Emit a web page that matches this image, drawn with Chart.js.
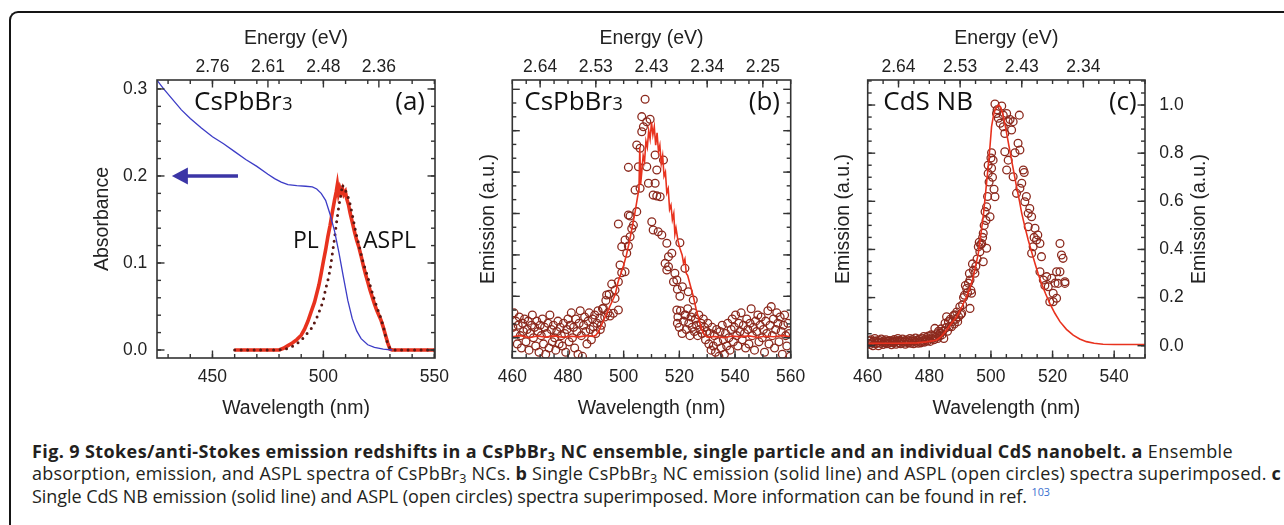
<!DOCTYPE html>
<html>
<head>
<meta charset="utf-8">
<script src="https://cdn.jsdelivr.net/npm/chart.js@4.4.1/dist/chart.umd.min.js"></script>
<style>
  html, body { margin: 0; padding: 0; background: #fff; }
  #page { position: relative; width: 1284px; height: 525px; overflow: hidden; background: #fff; }
  #frame { position: absolute; left: 9px; top: 11px; width: 1400px; height: 700px;
           border-top: 2px solid #151515; border-left: 2px solid #151515; border-top-left-radius: 9px; }
  canvas { position: absolute; }
  #caption { position: absolute; left: 32px; top: 440px; font-family: 'Open Sans'; font-size: 18px;
             line-height: 22.3px; color: #231f20; white-space: nowrap; }
  .cap { display: block; width: max-content; }
  #caption sub { font-size: 0.7em; vertical-align: -0.25em; line-height: 0; }
  #caption sup { font-size: 0.6em; vertical-align: 0.65em; line-height: 0; color: #3a6fd0; }
</style>
</head>
<body>
<div id="page">
  <div id="frame"></div>
  <canvas id="chartA" width="420" height="410" style="left:60px;top:20px"></canvas>
  <canvas id="chartB" width="350" height="410" style="left:470px;top:20px"></canvas>
  <canvas id="chartC" width="440" height="410" style="left:820px;top:20px"></canvas>
  <div id="caption">
    <span class="cap" data-w="1201"><b>Fig. 9 Stokes/anti-Stokes emission redshifts in a CsPbBr<sub>3</sub> NC ensemble, single particle and an individual CdS nanobelt. a</b> Ensemble</span>
    <span class="cap" data-w="1249">absorption, emission, and ASPL spectra of CsPbBr<sub>3</sub> NCs. <b>b</b> Single CsPbBr<sub>3</sub> NC emission (solid line) and ASPL (open circles) spectra superimposed. <b>c</b></span>
    <span class="cap" data-w="1018">Single CdS NB emission (solid line) and ASPL (open circles) spectra superimposed. More information can be found in ref.&nbsp;<sup>103</sup></span>
  </div>
</div>
<script>
// ---- panel (a): ensemble absorbance, PL and ASPL ----
const absX = [425, 428, 432, 436, 440, 445, 450, 455, 460, 465, 470, 475, 478, 481, 484, 488, 492, 495, 497, 499, 501, 503, 505, 507, 509, 511, 513, 515, 517, 520, 523, 527, 531];
const absY = [0.310, 0.300, 0.288, 0.276, 0.266, 0.255, 0.245, 0.237, 0.228, 0.219, 0.211, 0.202, 0.197, 0.193, 0.190, 0.1888, 0.1882, 0.1875, 0.185, 0.180, 0.172, 0.156, 0.137, 0.112, 0.084, 0.057, 0.036, 0.022, 0.013, 0.006, 0.003, 0.001, 0.0];
const plX = [460, 470, 480, 482, 484, 486, 488, 490, 491.5, 493, 494.5, 496, 497, 498, 499, 500, 501, 502, 503, 504, 505, 505.8, 506.3, 506.8, 507.4, 508, 508.6, 509.2, 509.9, 510.5, 511.3, 512, 513, 514, 515, 516, 517, 518, 519, 520, 521, 522, 523, 524, 525, 526, 527, 528, 529, 530, 531, 540, 550];
const plY = [0, 0, 0, 0.002, 0.005, 0.008, 0.012, 0.017, 0.024, 0.033, 0.044, 0.055, 0.065, 0.075, 0.088, 0.102, 0.115, 0.13, 0.143, 0.158, 0.172, 0.182, 0.19, 0.18, 0.186, 0.181, 0.185, 0.179, 0.182, 0.174, 0.167, 0.158, 0.147, 0.136, 0.126, 0.118, 0.108, 0.097, 0.087, 0.078, 0.069, 0.061, 0.053, 0.046, 0.04, 0.034, 0.026, 0.017, 0.008, 0.001, 0, 0, 0];
const asplX = [460, 470, 480, 483, 486, 489, 491, 493, 495, 497, 499, 500, 501, 502, 503, 504, 505, 506, 507, 508, 508.6, 509.3, 510, 511, 512, 513, 514, 515, 516, 517, 518, 519, 520, 521, 522, 523, 524, 525, 526, 527, 528, 529, 530, 531, 540, 550];
const asplY = [0, 0, 0, 0.001, 0.004, 0.009, 0.014, 0.02, 0.026, 0.037, 0.05, 0.058, 0.07, 0.08, 0.092, 0.11, 0.128, 0.148, 0.166, 0.18, 0.19, 0.184, 0.183, 0.177, 0.168, 0.156, 0.143, 0.131, 0.121, 0.11, 0.1, 0.092, 0.084, 0.075, 0.066, 0.058, 0.05, 0.043, 0.036, 0.027, 0.016, 0.007, 0.002, 0, 0, 0];
const aBottomTicks = [450, 500, 550];
const aTopTicks = [450, 475, 500, 525];
const aEnergyLabels = ['2.76', '2.61', '2.48', '2.36'];
const aYTicks = [0, 0.1, 0.2, 0.3];
const aArrow = { from: [461.5, 0.2], to: [431.7, 0.2] };

// ---- panel (b): single CsPbBr3 NC ----
const bLineX = [460, 463, 466, 469, 472, 475, 478, 481, 484, 487, 489, 490, 491, 492, 493, 494, 495, 496, 497, 498, 499, 500, 501, 502, 503, 504, 505, 505.5, 505.8, 506.1, 506.5, 507, 507.5, 508, 508.5, 509, 509.5, 510, 510.5, 511, 511.5, 512, 512.5, 513, 513.5, 514, 514.5, 515, 515.5, 516, 516.5, 517, 517.5, 518, 518.4, 518.8, 519.5, 520, 521, 521.5, 522, 522.5, 523, 524, 525, 526, 527, 528, 529, 530, 533, 536, 539, 542, 545, 548, 551, 554, 557, 560];
const bLineY = [0.005, 0.01, 0.0, 0.008, 0.003, 0.009, 0.002, 0.007, 0.004, 0.01, 0.006, 0.012, 0.03, 0.06, 0.09, 0.12, 0.15, 0.18, 0.21, 0.27, 0.31, 0.35, 0.4, 0.46, 0.53, 0.6, 0.68, 0.72, 0.92, 0.74, 0.8, 0.88, 0.85, 0.95, 0.92, 1.0, 0.96, 1.04, 0.98, 1.02, 0.93, 0.99, 0.9, 0.93, 0.84, 0.88, 0.78, 0.8, 0.7, 0.72, 0.62, 0.64, 0.57, 0.6, 0.5, 0.53, 0.47, 0.44, 0.4, 0.36, 0.38, 0.31, 0.3, 0.25, 0.2, 0.14, 0.09, 0.04, 0.015, 0.003, 0.006, 0.0, 0.008, 0.004, 0.009, 0.002, 0.007, 0.005, 0.01, 0.004];
const bCircX = [460.2, 460.6, 461.0, 461.3, 461.8, 462.1, 462.5, 462.9, 463.3, 463.7, 464.0, 464.4, 464.9, 465.3, 465.7, 466.0, 466.4, 466.9, 467.2, 467.6, 468.0, 468.4, 468.8, 469.2, 469.6, 470.0, 470.4, 470.8, 471.2, 471.6, 472.0, 472.4, 472.8, 473.2, 473.5, 474.0, 474.4, 474.8, 475.2, 475.6, 476.0, 476.4, 476.8, 477.2, 477.6, 478.0, 478.4, 478.8, 479.2, 479.6, 480.0, 480.4, 480.8, 481.2, 481.6, 482.0, 482.4, 482.8, 483.2, 483.6, 484.0, 484.4, 484.8, 485.2, 485.6, 486.0, 486.4, 486.8, 487.2, 487.6, 488.0, 488.4, 488.8, 489.1, 489.6, 490.0, 490.4, 490.8, 491.5, 491.6, 492.0, 492.4, 492.7, 493.2, 493.6, 493.9, 494.4, 494.8, 495.1, 495.7, 496.3, 496.9, 496.9, 498.1, 498.1, 498.1, 498.7, 499.3, 499.3, 500.5, 500.5, 501.1, 501.7, 501.7, 501.7, 502.3, 502.3, 502.9, 503.5, 504.1, 504.7, 504.7, 505.3, 505.9, 505.9, 506.5, 506.5, 507.1, 507.7, 508.3, 508.3, 508.9, 509.5, 510.1, 510.6, 510.6, 511.3, 511.3, 511.9, 511.9, 512.4, 513.1, 513.7, 514.3, 514.9, 515.5, 515.5, 516.1, 516.1, 517.3, 517.9, 518.4, 519.1, 519.1, 519.3, 519.3, 519.5, 520.0, 520.2, 520.2, 520.4, 521.0, 521.1, 521.5, 522.0, 522.0, 522.1, 522.5, 523.0, 523.2, 523.4, 523.8, 524.2, 524.6, 525.0, 525.0, 525.4, 525.8, 526.2, 526.6, 527.0, 527.4, 527.8, 528.2, 528.6, 529.0, 529.4, 529.8, 530.2, 530.6, 531.0, 531.4, 531.8, 532.2, 532.6, 533.0, 533.4, 533.8, 534.2, 534.6, 535.0, 535.4, 535.8, 536.2, 536.6, 537.0, 537.4, 537.8, 538.2, 538.6, 539.0, 539.4, 539.8, 540.2, 540.6, 541.0, 541.4, 541.8, 542.2, 542.6, 543.0, 543.4, 543.8, 544.2, 544.6, 545.0, 545.4, 545.8, 546.2, 546.6, 547.0, 547.4, 547.8, 548.2, 548.6, 549.0, 549.4, 549.8, 550.2, 550.6, 551.0, 551.4, 551.8, 552.2, 552.6, 553.0, 553.4, 553.8, 554.2, 554.6, 555.0, 555.4, 555.8, 556.2, 556.6, 557.0, 557.4, 557.8, 558.2, 558.6, 559.0, 559.4, 559.8];
const bCircY = [0.05, 0.12, 0.02, 0.08, -0.03, 0.06, 0.1, 0.01, -0.05, 0.07, 0.03, 0.09, -0.02, 0.04, 0.08, -0.06, 0.02, 0.06, 0.11, 0.0, 0.05, -0.04, 0.08, 0.03, -0.07, 0.06, 0.01, 0.09, -0.03, 0.05, -0.08, 0.02, 0.07, -0.05, 0.11, 0.04, -0.02, 0.06, 0.0, -0.06, 0.03, 0.08, -0.03, 0.05, 0.01, -0.04, 0.07, 0.02, -0.07, 0.04, 0.09, -0.02, 0.06, 0.12, 0.0, 0.05, -0.05, 0.09, 0.03, -0.08, 0.07, 0.13, 0.01, -0.09, 0.06, 0.1, 0.03, -0.03, 0.08, 0.12, 0.04, -0.01, 0.09, 0.053, 0.11, 0.02, 0.07, 0.13, 0.094, 0.04, 0.06, 0.14, 0.142, 0.1, 0.18, 0.206, 0.12, 0.21, 0.105, 0.259, 0.118, 0.23, 0.19, 0.134, 0.27, 0.549, 0.351, 0.314, 0.44, 0.319, 0.472, 0.408, 0.443, 0.593, 0.823, 0.488, 0.588, 0.528, 0.544, 0.713, 0.609, 0.931, 0.826, 0.915, 0.722, 0.995, 1.068, 1.019, 1.152, 1.043, 0.826, 0.746, 1.055, 0.56, 0.689, 0.52, 0.883, 0.746, 0.81, 0.685, 0.512, 0.681, 0.496, 0.858, 0.359, 0.456, 0.327, 0.391, 0.343, 0.408, 0.27, 0.311, 0.279, 0.134, 0.234, 0.07, 0.1, 0.05, 0.459, 0.2, 0.13, 0.02, 0.246, 0.08, 0.335, 0.11, 0.11, 0.04, 0.14, 0.222, 0.07, 0.01, 0.1, 0.05, 0.182, 0.12, 0.03, 0.09, 0.06, 0.01, 0.11, 0.04, 0.07, 0.02, 0.09, 0.05, -0.01, 0.03, 0.07, -0.03, 0.02, -0.06, 0.05, -0.04, 0.01, -0.07, 0.04, -0.02, -0.09, 0.03, -0.05, 0.06, -0.01, -0.08, 0.02, -0.04, 0.07, 0.0, -0.06, 0.04, 0.09, -0.02, 0.05, 0.11, 0.01, -0.04, 0.07, 0.03, 0.12, -0.01, 0.06, 0.02, -0.05, 0.09, 0.04, -0.03, 0.07, 0.14, 0.01, 0.05, -0.06, 0.08, 0.03, 0.11, -0.02, 0.06, 0.1, 0.0, 0.04, -0.07, 0.08, 0.02, 0.13, -0.03, 0.06, 0.15, 0.01, 0.09, -0.05, 0.04, 0.12, 0.07, -0.02, 0.1, 0.03, -0.08, 0.06, 0.11, 0.01, -0.04, 0.07, 0.02, -0.09];
const bBottomTicks = [460, 480, 500, 520, 540, 560];
const bTopTicks = [470, 490, 510, 530, 550];
const bEnergyLabels = ['2.64', '2.53', '2.43', '2.34', '2.25'];

// ---- panel (c): individual CdS nanobelt ----
const cLineX = [460, 470, 476, 479, 481, 482.4, 484, 485.6, 487, 488.9, 490.5, 492.1, 493.3, 494.3, 495.1, 495.9, 496.7, 497.5, 498.3, 499.1, 499.7, 500.2, 500.8, 501.3, 502, 502.6, 503.2, 503.8, 504.4, 505.1, 505.9, 506.7, 507.5, 508.3, 509.2, 510, 511, 512.1, 513.2, 514.3, 515.3, 516.4, 517.7, 519.1, 520.7, 522.4, 524.5, 526.7, 528.8, 531, 533.5, 536.4, 540, 550];
const cLineY = [0.01, 0.01, 0.012, 0.016, 0.02, 0.024, 0.04, 0.065, 0.09, 0.12, 0.16, 0.204, 0.245, 0.287, 0.335, 0.384, 0.46, 0.536, 0.64, 0.744, 0.83, 0.91, 0.955, 0.979, 0.995, 1.0, 0.99, 0.965, 0.93, 0.882, 0.826, 0.771, 0.716, 0.661, 0.605, 0.55, 0.495, 0.439, 0.39, 0.342, 0.3, 0.259, 0.217, 0.176, 0.136, 0.1, 0.068, 0.044, 0.028, 0.017, 0.01, 0.006, 0.005, 0.005];
const cCircX = [460.2, 460.5, 460.8, 461.1, 461.4, 461.7, 462.0, 462.3, 462.6, 462.9, 463.2, 463.5, 463.8, 464.1, 464.4, 464.7, 465.0, 465.3, 465.6, 465.9, 466.2, 466.5, 466.8, 467.1, 467.4, 467.7, 468.0, 468.3, 468.6, 468.9, 469.2, 469.5, 469.8, 470.1, 470.4, 470.7, 471.0, 471.3, 471.6, 471.9, 472.2, 472.5, 472.8, 473.1, 473.4, 473.7, 474.0, 474.3, 474.6, 474.9, 475.2, 475.5, 475.8, 476.1, 476.4, 476.7, 477.0, 477.3, 477.6, 477.9, 478.2, 478.5, 478.8, 479.1, 479.4, 479.7, 480.0, 480.3, 480.6, 480.9, 481.2, 481.5, 481.8, 482.1, 482.4, 482.7, 483.0, 483.3, 483.5, 483.8, 484.1, 484.4, 484.7, 485.1, 485.4, 485.6, 485.9, 486.2, 486.5, 486.8, 487.2, 487.5, 487.8, 488.1, 488.3, 488.6, 488.9, 489.2, 489.5, 489.9, 490.2, 490.5, 490.8, 491.1, 491.4, 491.7, 492.1, 492.4, 492.7, 493.0, 493.2, 493.2, 493.5, 493.7, 494.0, 494.3, 494.8, 495.1, 495.5, 495.9, 496.2, 496.4, 496.7, 497.0, 497.3, 497.5, 497.5, 497.8, 498.1, 498.4, 498.6, 498.6, 498.9, 499.1, 499.1, 499.4, 499.7, 500.0, 500.2, 500.2, 500.5, 500.7, 501.0, 501.3, 501.3, 501.8, 502.0, 502.4, 503.0, 503.5, 504.0, 504.0, 504.5, 504.5, 505.1, 505.1, 505.6, 505.6, 506.2, 506.7, 507.2, 507.2, 507.8, 508.3, 508.8, 509.2, 509.4, 509.4, 510.0, 510.5, 510.8, 511.0, 511.5, 512.1, 512.1, 512.6, 513.2, 513.2, 513.7, 514.0, 514.3, 514.8, 515.2, 515.9, 515.9, 516.4, 517.0, 517.5, 518.1, 518.6, 519.1, 519.7, 520.2, 520.2, 520.8, 521.3, 521.3, 521.8, 522.4, 522.4, 522.9, 523.4, 524.0, 524.0];
const cCircY = [0.01, 0.02, 0.005, 0.025, 0.012, 0.0, 0.018, 0.03, 0.008, 0.02, 0.012, 0.0, 0.022, 0.01, 0.028, 0.015, 0.005, 0.02, 0.012, 0.025, 0.008, 0.018, 0.01, 0.022, 0.014, 0.004, 0.02, 0.012, 0.026, 0.016, 0.006, 0.02, 0.03, 0.012, 0.022, 0.008, 0.018, 0.028, 0.014, 0.02, 0.006, 0.016, 0.025, 0.012, 0.02, 0.03, 0.01, 0.018, 0.026, 0.008, 0.02, 0.032, 0.014, 0.022, 0.01, 0.028, 0.018, 0.012, 0.03, 0.02, 0.038, 0.015, 0.026, 0.034, 0.02, 0.04, 0.028, 0.018, 0.045, 0.03, 0.04, 0.025, 0.072, 0.035, 0.05, 0.03, 0.06, 0.04, 0.052, 0.07, 0.045, 0.06, 0.03, 0.093, 0.075, 0.12, 0.06, 0.1, 0.08, 0.11, 0.079, 0.1, 0.125, 0.09, 0.128, 0.11, 0.14, 0.1, 0.12, 0.162, 0.13, 0.135, 0.17, 0.2, 0.21, 0.25, 0.238, 0.22, 0.26, 0.3, 0.273, 0.155, 0.23, 0.218, 0.34, 0.314, 0.301, 0.33, 0.36, 0.411, 0.43, 0.39, 0.42, 0.425, 0.45, 0.467, 0.349, 0.5, 0.557, 0.52, 0.577, 0.405, 0.62, 0.716, 0.75, 0.68, 0.536, 0.78, 0.802, 0.737, 0.7, 0.771, 0.65, 0.619, 1.004, 0.965, 0.98, 0.945, 0.924, 0.996, 0.958, 0.91, 0.882, 0.806, 0.965, 0.73, 0.931, 0.771, 0.94, 0.896, 0.931, 0.702, 0.802, 0.633, 0.841, 0.958, 0.813, 0.654, 0.675, 0.73, 0.72, 0.598, 0.62, 0.55, 0.494, 0.57, 0.536, 0.384, 0.411, 0.45, 0.488, 0.439, 0.46, 0.425, 0.307, 0.37, 0.273, 0.25, 0.287, 0.245, 0.183, 0.28, 0.218, 0.183, 0.26, 0.307, 0.197, 0.259, 0.425, 0.307, 0.377, 0.363, 0.266, 0.259];
const cBottomTicks = [460, 480, 500, 520, 540];
const cTopTicks = [470, 490, 510, 530];
const cEnergyLabels = ['2.64', '2.53', '2.43', '2.34'];
const cYTicks = [0, 0.2, 0.4, 0.6, 0.8, 1.0];

const RED = '#e8321e';
const CIRCLE = '#8c2a1e';
const tickFont = { family: 'Liberation Sans', size: 17.5 };
const titleFont = { family: 'Liberation Sans', size: 19.5 };

const pts = (xs, ys) => xs.map((x, i) => ({ x: x, y: ys[i] }));
const range = (a, b, step) => { const out = []; for (let v = a; v <= b + step / 1000; v += step) out.push(+v.toFixed(4)); return out; };

// frame box with inward ticks on all four sides
const frameTicks = {
  id: 'frameTicks',
  afterDraw(chart, args, opts) {
    const { ctx, chartArea: a, scales } = chart;
    ctx.save();
    ctx.strokeStyle = '#333';
    ctx.lineWidth = 1.4;
    const draw = (side, spec) => {
      if (!spec) return;
      const scale = (side === 'bottom') ? scales.x : (side === 'top') ? scales.x2 : scales.y;
      [[spec.minor || [], 4], [spec.major || [], 7.5]].forEach(([vals, len]) => {
        vals.forEach(v => {
          const p = scale.getPixelForValue(v);
          ctx.beginPath();
          if (side === 'bottom') { ctx.moveTo(p, a.bottom); ctx.lineTo(p, a.bottom - len); }
          if (side === 'top') { ctx.moveTo(p, a.top); ctx.lineTo(p, a.top + len); }
          if (side === 'left') { ctx.moveTo(a.left, p); ctx.lineTo(a.left + len, p); }
          if (side === 'right') { ctx.moveTo(a.right, p); ctx.lineTo(a.right - len, p); }
          ctx.stroke();
        });
      });
    };
    ['bottom', 'top', 'left', 'right'].forEach(s => draw(s, opts[s]));
    ctx.lineWidth = 1.6;
    ctx.strokeRect(a.left, a.top, a.right - a.left, a.bottom - a.top);
    ctx.restore();
  }
};

// in-panel labels ("CsPbBr3", "(a)", "PL" ...), right axis title and the arrow of panel (a)
const panelText = {
  id: 'panelText',
  afterDraw(chart, args, opts) {
    const { ctx, chartArea: a, scales } = chart;
    ctx.save();
    ctx.fillStyle = '#111';
    ctx.textBaseline = 'alphabetic';
    (opts.list || []).forEach(t => {
      ctx.font = t.size + 'px "Open Sans"';
      const x = t.right ? a.right - t.dx : a.left + t.dx;
      ctx.textAlign = t.right ? 'right' : 'left';
      ctx.fillText(t.text, x, a.top + t.dy);
      if (t.sub) {
        const w = ctx.measureText(t.text).width;
        ctx.font = Math.round(t.size * 0.68) + 'px "Open Sans"';
        ctx.fillText(t.sub, x + w + 0.5, a.top + t.dy);
      }
    });
    if (opts.rightTitle) {
      ctx.save();
      ctx.fillStyle = '#222';
      ctx.font = titleFont.size + 'px "' + titleFont.family + '"';
      ctx.textAlign = 'center';
      ctx.textBaseline = 'middle';
      ctx.translate(a.right + opts.rightTitle.dx, (a.top + a.bottom) / 2);
      ctx.rotate(-Math.PI / 2);
      ctx.fillText(opts.rightTitle.text, 0, 0);
      ctx.restore();
    }
    if (opts.arrow) {
      const x0 = scales.x.getPixelForValue(opts.arrow.from[0]);
      const y0 = scales.y.getPixelForValue(opts.arrow.from[1]);
      const x1 = scales.x.getPixelForValue(opts.arrow.to[0]);
      ctx.strokeStyle = '#3b35a6';
      ctx.fillStyle = '#3b35a6';
      ctx.lineWidth = 3.5;
      ctx.beginPath(); ctx.moveTo(x0, y0); ctx.lineTo(x1 + 14, y0); ctx.stroke();
      ctx.beginPath(); ctx.moveTo(x1, y0); ctx.lineTo(x1 + 16, y0 - 8.5); ctx.lineTo(x1 + 16, y0 + 8.5); ctx.closePath(); ctx.fill();
    }
    ctx.restore();
  }
};
Chart.register(frameTicks, panelText);

function hAxis(position, min, max, values, labels, box, title, tickPad, titlePad) {
  return {
    type: 'linear', position: position, min: min, max: max,
    afterBuildTicks: s => { s.ticks = values.map(v => ({ value: v })); },
    afterFit: s => { s.height = box; },
    grid: { display: false, drawTicks: false }, border: { display: false },
    ticks: { autoSkip: false, maxRotation: 0, padding: tickPad, color: '#222', font: tickFont,
             callback: (v, i) => labels ? labels[i] : String(v) },
    title: { display: true, text: title, color: '#222', font: titleFont, padding: titlePad }
  };
}

function vAxis(position, min, max, values, box, title, tickPad, titlePad) {
  return {
    type: 'linear', position: position, min: min, max: max,
    afterBuildTicks: s => { s.ticks = values.map(v => ({ value: v })); },
    afterFit: s => { s.width = box; },
    grid: { display: false, drawTicks: false }, border: { display: false },
    ticks: { display: values.length > 0, padding: tickPad, color: '#222', font: tickFont,
             callback: v => v.toFixed(1) },
    title: { display: !!title, text: title || '', color: '#222', font: titleFont, padding: titlePad }
  };
}

const baseOptions = (scales, plugins) => ({
  responsive: false, animation: false, devicePixelRatio: 1,
  events: [],
  layout: { padding: 0 },
  scales: scales,
  plugins: Object.assign({ legend: { display: false }, tooltip: { enabled: false } }, plugins)
});

// panel (a)
new Chart(document.getElementById('chartA'), {
  type: 'scatter',
  data: {
    datasets: [
      { data: pts(absX, absY), showLine: true, borderColor: '#3c3cc6', borderWidth: 1.3, pointRadius: 0, order: 0 },
      { data: pts(asplX, asplY), showLine: true, borderColor: '#5a1712', borderWidth: 3, borderDash: [0, 6.5], borderCapStyle: 'round', pointRadius: 0, order: 1 },
      { data: pts(plX, plY), showLine: true, borderColor: RED, borderWidth: 3.6, pointRadius: 0, order: 2 }
    ]
  },
  options: baseOptions({
    x: hAxis('bottom', 425, 550.3, aBottomTicks, null, 72, 'Wavelength (nm)', 8.5, { top: 0, bottom: 10 }),
    x2: hAxis('top', 425, 550.3, aTopTicks, aEnergyLabels, 60, 'Energy (eV)', 2.8, { top: 7, bottom: 0 }),
    y: vAxis('left', -0.0092, 0.3103, aYTicks, 97, 'Absorbance', 9.7, { top: 31, bottom: 0 }),
    y2: vAxis('right', -0.0092, 0.3103, [], 45, null, 0, 0)
  }, {
    frameTicks: {
      bottom: { major: aBottomTicks, minor: range(430, 550, 10) },
      top: { major: aTopTicks, minor: range(430, 550, 10) },
      left: { major: aYTicks, minor: range(0, 0.3, 0.02) },
      right: { major: aYTicks, minor: range(0, 0.3, 0.02) }
    },
    panelText: {
      list: [
        { text: 'CsPbBr', sub: '3', size: 26, dx: 37, dy: 30 },
        { text: '(a)', size: 26, dx: 10, dy: 30, right: true },
        { text: 'PL', size: 23, dx: 136, dy: 168 },
        { text: 'ASPL', size: 23, dx: 206, dy: 168 }
      ],
      arrow: aArrow
    }
  })
});

// panel (b)
new Chart(document.getElementById('chartB'), {
  type: 'scatter',
  data: {
    datasets: [
      { data: pts(bLineX, bLineY), showLine: true, borderColor: RED, borderWidth: 1.6, pointRadius: 0, order: 0 },
      { data: pts(bCircX, bCircY), showLine: false, pointStyle: 'circle', pointRadius: 3.9, borderWidth: 1.3,
        borderColor: CIRCLE, backgroundColor: 'rgba(0,0,0,0)', order: 1 }
    ]
  },
  options: baseOptions({
    x: hAxis('bottom', 460, 560, bBottomTicks, null, 72, 'Wavelength (nm)', 8.5, { top: 0, bottom: 10 }),
    x2: hAxis('top', 460, 560, bTopTicks, bEnergyLabels, 60, 'Energy (eV)', 2.8, { top: 7, bottom: 0 }),
    y: vAxis('left', -0.098, 1.245, [], 42.3, 'Emission (a.u.)', 0, { top: 6.6, bottom: 0 }),
    y2: vAxis('right', -0.098, 1.245, [], 29.3, null, 0, 0)
  }, {
    frameTicks: {
      bottom: { major: bBottomTicks, minor: range(460, 560, 5) },
      top: { major: bTopTicks, minor: range(460, 560, 5) },
      left: { major: range(0, 1.2, 0.2), minor: range(-0.0667, 1.2, 0.0667) },
      right: { major: range(0, 1.2, 0.2), minor: range(-0.0667, 1.2, 0.0667) }
    },
    panelText: {
      list: [
        { text: 'CsPbBr', sub: '3', size: 26, dx: 12, dy: 30 },
        { text: '(b)', size: 26, dx: 10.7, dy: 30, right: true }
      ]
    }
  })
});

// panel (c)
new Chart(document.getElementById('chartC'), {
  type: 'scatter',
  data: {
    datasets: [
      { data: pts(cLineX, cLineY), showLine: true, borderColor: RED, borderWidth: 1.6, pointRadius: 0, order: 0 },
      { data: pts(cCircX, cCircY), showLine: false, pointStyle: 'circle', pointRadius: 3.9, borderWidth: 1.3,
        borderColor: CIRCLE, backgroundColor: 'rgba(0,0,0,0)', order: 1 }
    ]
  },
  options: baseOptions({
    x: hAxis('bottom', 460, 550, cBottomTicks, null, 72, 'Wavelength (nm)', 8.5, { top: 0, bottom: 10 }),
    x2: hAxis('top', 460, 550, cTopTicks, cEnergyLabels, 60, 'Energy (eV)', 2.8, { top: 7, bottom: 0 }),
    y: vAxis('left', -0.051, 1.104, [], 47.7, 'Emission (a.u.)', 0, { top: 11.6, bottom: 0 }),
    y2: vAxis('right', -0.051, 1.104, cYTicks, 115, null, 14.3, 0)
  }, {
    frameTicks: {
      bottom: { major: cBottomTicks, minor: range(460, 550, 5) },
      top: { major: cTopTicks, minor: range(460, 550, 5) },
      left: { major: cYTicks, minor: range(0, 1.1, 0.05) },
      right: { major: cYTicks, minor: range(0, 1.1, 0.05) }
    },
    panelText: {
      list: [
        { text: 'CdS NB', size: 26, dx: 15.6, dy: 30 },
        { text: '(c)', size: 26, dx: 8.3, dy: 30, right: true }
      ],
      rightTitle: { text: 'Emission (a.u.)', dx: 55 }
    }
  })
});

// stretch each caption line to the width it has in the figure
function fitCaption() {
  document.querySelectorAll('.cap').forEach(el => {
    el.style.letterSpacing = '0px';
    const w = el.getBoundingClientRect().width;
    const n = el.textContent.length;
    el.style.letterSpacing = ((+el.dataset.w - w) / n).toFixed(3) + 'px';
  });
}
fitCaption();
if (document.fonts) document.fonts.ready.then(fitCaption);
</script>
</body>
</html>
